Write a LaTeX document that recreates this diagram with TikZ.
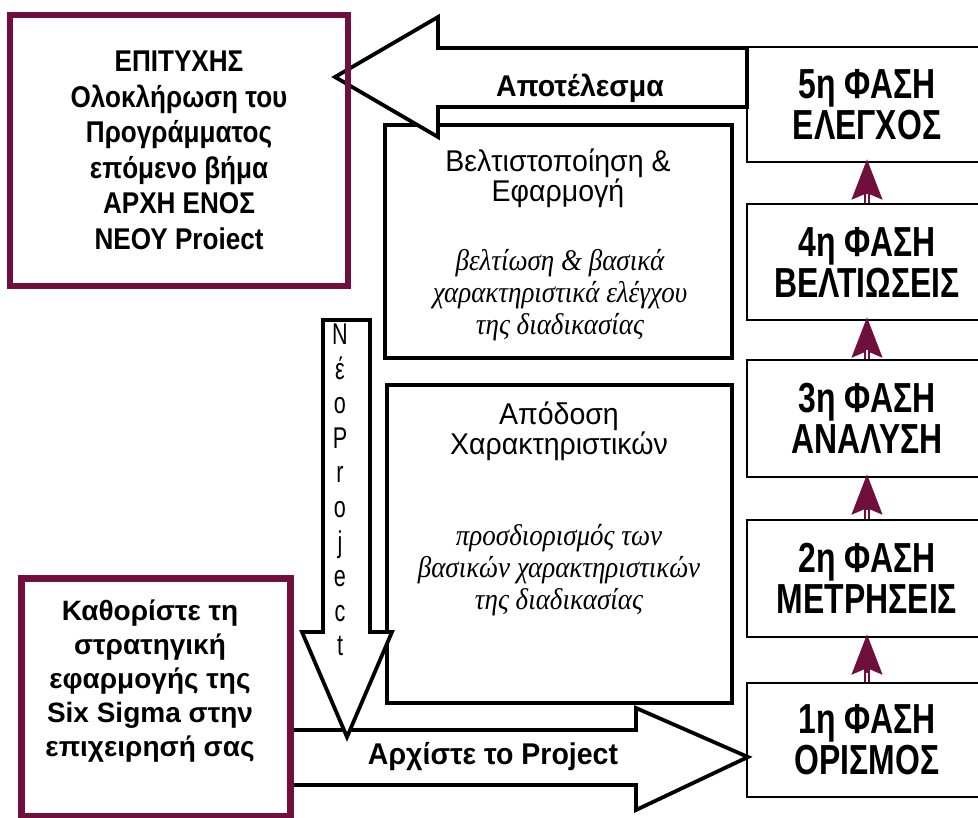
\documentclass[tikz,border=0pt]{standalone}
\usepackage{fontspec}
\setmainfont{Liberation Sans}
\newfontfamily\phasefont[FakeStretch=0.76]{Liberation Sans}
\newfontfamily\goalfont[FakeStretch=0.87]{Liberation Sans}
\newfontfamily\stratfont[FakeStretch=1.0]{Liberation Sans}
\newfontfamily\arrowfont[FakeStretch=0.95]{Liberation Sans}
\newfontfamily\midfont[FakeStretch=0.95]{Liberation Sans}
\newfontfamily\notefont[FakeStretch=0.9]{Liberation Serif}
\newfontfamily\vertfont[FakeStretch=0.72]{Liberation Sans}
\usetikzlibrary{arrows.meta,calc}
\definecolor{boxmaroon}{RGB}{112,14,62}
\tikzset{
  phasebox/.style={draw, line width=2.2pt, fill=white, inner sep=0pt,
    minimum width=240pt, align=center,
    font={\phasefont\bfseries\fontsize{42}{41}\selectfont}},
  stagebox/.style={draw, line width=4.5pt, fill=white, inner sep=0pt},
  stagetitle/.style={align=center, inner sep=0pt,
    font={\midfont\fontsize{30}{30}\selectfont}},
  stagenote/.style={align=center, inner sep=0pt,
    font={\notefont\itshape\fontsize{30}{32}\selectfont}},
  mainbox/.style={draw=boxmaroon, line width=7pt, inner sep=0pt},
  blockarrow/.style={draw, line width=3.8pt, fill=white, line join=miter},
  arrowlabel/.style={inner sep=0pt, font={\arrowfont\bfseries\fontsize{30}{30}\selectfont}},
  phasearrow/.style={draw=boxmaroon, line width=6pt,
    -{Stealth[length=40pt,width=30pt,inset=6pt,fill=boxmaroon]}},
}
\begin{document}
\begin{tikzpicture}[x=1pt,y=-1pt]
\useasboundingbox (0,0) rectangle (978,818);
\fill[white] (0,0) rectangle (978,818);

% the two stage boxes in the middle column
\node[stagebox, minimum width=347pt, minimum height=233pt] (boxA) at (558.5,241.5) {};
\node[stagebox, minimum width=345pt, minimum height=318pt] (boxB) at (559.5,544) {};
\node[stagetitle] (boxAtitle) at (558,178) {Βελτιστοποίηση \&\\Εφαρμογή};
\node[stagenote] (boxAnote) at (560,295) {βελτίωση \& βασικά\\χαρακτηριστικά ελέγχου\\της διαδικασίας};
\node[stagetitle] (boxBtitle) at (559,431) {Απόδοση\\Χαρακτηριστικών};
\node[stagenote] (boxBnote) at (559,570) {προσδιορισμός των\\βασικών χαρακτηριστικών\\της διαδικασίας};

% the five phases
\node[phasebox, minimum height=115pt] (p5) at (867,104.5) {5η ΦΑΣΗ\\ΕΛΕΓΧΟΣ};
\node[phasebox, minimum height=116pt] (p4) at (867,262) {4η ΦΑΣΗ\\ΒΕΛΤΙΩΣΕΙΣ};
\node[phasebox, minimum height=117pt] (p3) at (867,418.5) {3η ΦΑΣΗ\\ΑΝΑΛΥΣΗ};
\node[phasebox, minimum height=117pt] (p2) at (867,578.5) {2η ΦΑΣΗ\\ΜΕΤΡΗΣΕΙΣ};
\node[phasebox, minimum height=114pt] (p1) at (867,740) {1η ΦΑΣΗ\\ΟΡΙΣΜΟΣ};

% arrows between the phases
\foreach \a/\b in {p1/p2,p2/p3,p3/p4,p4/p5}{
  \draw[phasearrow] (\a.north) -- ($(\b.south)+(0,-4)$);
  \draw[white, line width=1.3pt] (\a.north) -- ++(0,-9);
}

% "start the project" block arrow
\coordinate (startTip) at (748,757);
\draw[blockarrow] (290,730) -- (636,730) -- (636,708) -- (startTip)
  -- (636,810) -- (636,785) -- (290,785) -- cycle;
\node[arrowlabel] (startLabel) at (493,757) {Αρχίστε το Project};

% "new project" block arrow pointing down
\coordinate (newTip) at (347,737);
\draw[blockarrow] (323,320) -- (370,320) -- (370,632) -- (392,632) -- (newTip)
  -- (302,632) -- (323,632) -- cycle;
\node[align=center, inner sep=0pt, font={\vertfont\fontsize{30}{34.6}\selectfont}]
  (newLabel) at (340,490) {N\\έ\\o\\P\\r\\o\\j\\e\\c\\t};

% "result" block arrow
\coordinate (resultTip) at (335,77);
\draw[blockarrow] (resultTip) -- (438,17) -- (438,48) -- (747,48) -- (747,107)
  -- (438,107) -- (438,137) -- cycle;
\node[arrowlabel] (resultLabel) at (580,88) {Αποτέλεσμα};

% outcome box
\node[mainbox, line width=6.5pt, minimum width=338pt, minimum height=271pt,
  align=center, font={\goalfont\bfseries\fontsize{30}{35.5}\selectfont}]
  (goal) at (179,150.5) {ΕΠΙΤΥΧΗΣ\\Ολοκλήρωση του\\Προγράμματος\\επόμενο βήμα\\ΑΡΧΗ ΕΝΟΣ\\ΝΕΟΥ Proiect};

% strategy box
\node[mainbox, minimum width=268.5pt, minimum height=238pt] (strategy) at (155.75,697) {};
\node[align=center, inner sep=0pt, font={\stratfont\bfseries\fontsize{28}{34}\selectfont}]
  (strategyText) at (150,681) {Καθορίστε τη\\στρατηγική\\εφαρμογής της\\Six Sigma στην\\επιχειρησή σας};
\end{tikzpicture}
\end{document}
